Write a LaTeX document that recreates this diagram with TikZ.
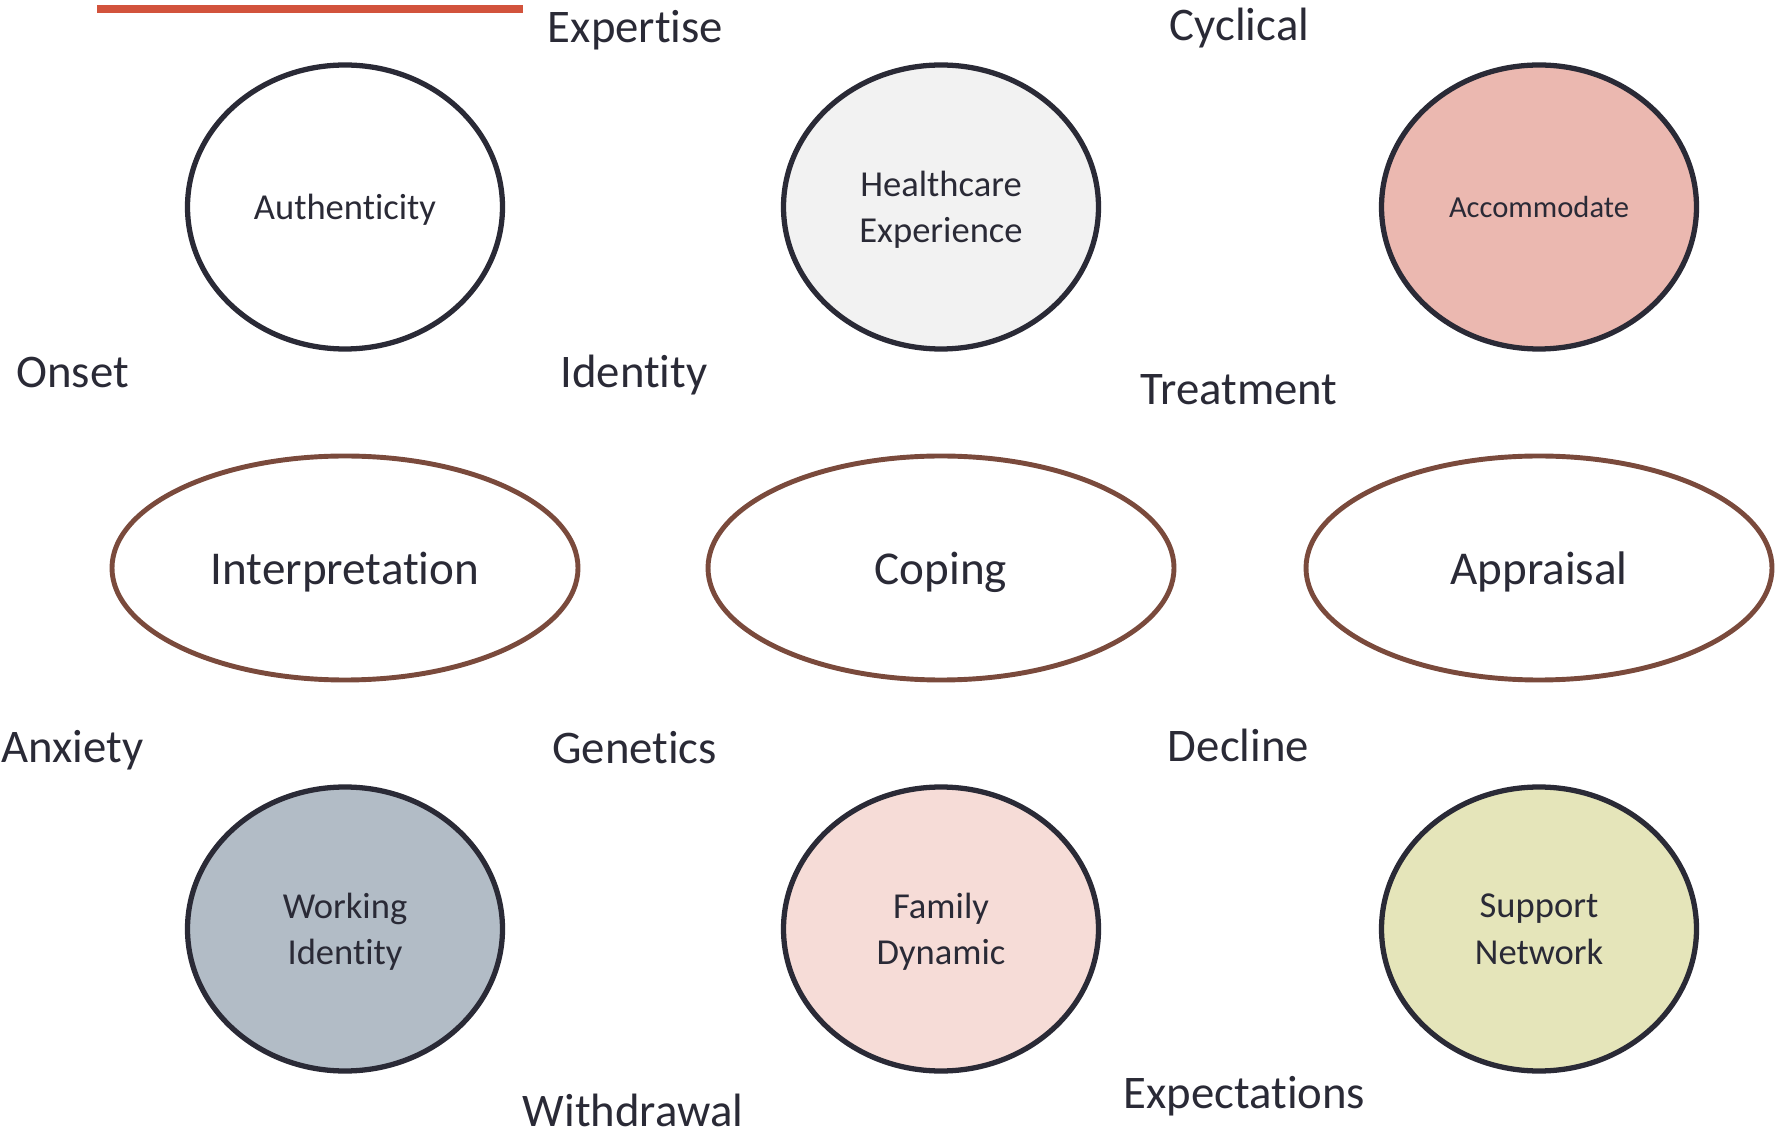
\documentclass[tikz,border=0pt]{standalone}
\usepackage{fontspec}
\setmainfont{Carlito}[Ligatures=NoCommon]
\usetikzlibrary{shapes.geometric}
\definecolor{InkDark}{HTML}{2A2A36}
\definecolor{RingBrown}{HTML}{7A4A3C}
\definecolor{BarRed}{HTML}{D2533C}
\definecolor{FillGrey}{HTML}{F2F2F2}
\definecolor{FillRose}{HTML}{EBB8B0}
\definecolor{FillSlate}{HTML}{B2BCC6}
\definecolor{FillBlush}{HTML}{F6DCD7}
\definecolor{FillOlive}{HTML}{E5E5BA}

\begin{document}
\begin{tikzpicture}[
    tallring/.style={ellipse, draw=InkDark, line width=1.5pt, fill=white, minimum width=3.15cm, minimum height=2.84cm, inner sep=0pt, text depth=0pt, align=center, text=InkDark, font=\fontsize{10.4}{13.2}\selectfont},
    widering/.style={ellipse, draw=RingBrown, line width=1.4pt, fill=white, minimum width=4.66cm, minimum height=2.24cm, inner sep=0pt, text depth=0pt, text=InkDark, font=\fontsize{13.4}{16}\selectfont},
    word/.style={anchor=base, text=InkDark, font=\fontsize{13.3}{16}\selectfont}]
                \useasboundingbox (0,0) rectangle (17.87,-11.38);

                % Accent bar
                \coordinate (barL) at (0.97,-0.09);
                \coordinate (barR) at (5.23,-0.09);
                \draw[BarRed, line width=2.4pt] (barL) -- (barR);

                % Top row
                \node[tallring] (auth) at (3.45,-2.07) {Authenticity};
                \node[tallring, fill=FillGrey] (health) at (9.41,-2.07) {Healthcare\\Experience};
                \node[tallring, fill=FillRose, font=\fontsize{8.7}{10.5}\selectfont] (accom) at (15.39,-2.07) {Accommodate};

                % Middle row
                \node[widering] (interp) at (3.45,-5.68) {Interpretation};
                \node[widering] (coping) at (9.41,-5.68) {Coping};
                \node[widering] (apprais) at (15.39,-5.68) {Appraisal};

                % Bottom row
                \node[tallring, fill=FillSlate] (workid) at (3.45,-9.29) {Working\\Identity};
                \node[tallring, fill=FillBlush] (family) at (9.41,-9.29) {Family\\Dynamic};
                \node[tallring, fill=FillOlive] (support) at (15.39,-9.29) {Support\\Network};

                % Loose words around the rings
                \node[word] (expertise) at (6.355,-0.427) {Expertise};
                \node[word] (cyclical) at (12.395,-0.407) {Cyclical};
                \node[word] (onset) at (0.725,-3.88) {Onset};
                \node[word] (identity) at (6.34,-3.88) {Identity};
                \node[word] (treatment) at (12.39,-4.05) {Treatment};
                \node[word] (anxiety) at (0.724,-7.627) {Anxiety};
                \node[word] (genetics) at (6.346,-7.63) {Genetics};
                \node[word] (decline) at (12.385,-7.617) {Decline};
                \node[word] (withdrawal) at (6.33,-11.267) {Withdrawal};
                \node[word] (expect) at (12.445,-11.08) {Expectations};
\end{tikzpicture}
\end{document}
